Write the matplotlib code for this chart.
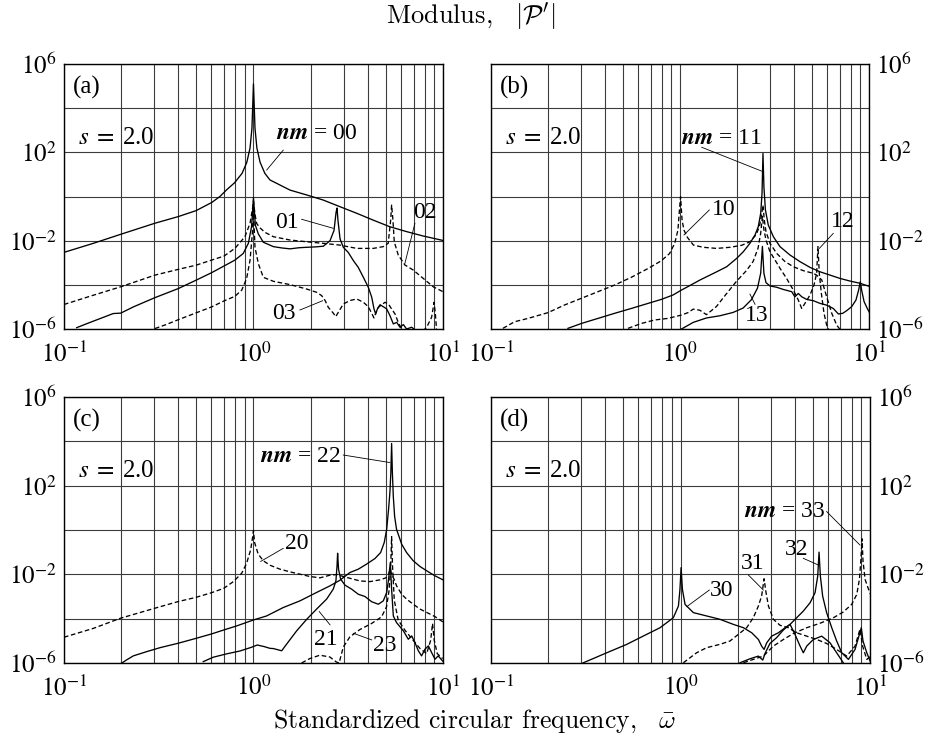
import numpy as np
import matplotlib
matplotlib.use("Agg")
from matplotlib import pyplot as plt
from matplotlib.ticker import FixedLocator, FixedFormatter, LogLocator, NullFormatter, NullLocator

# DATA
# All values are log10: *_W = log10(omega), *_P = log10(|P'|)

# panel (a)
A00_W = [-1.0, -0.845, -0.70, -0.52, -0.397, -0.303, -0.22, -0.177, -0.142, -0.10, -0.06, -0.035,
         -0.018, -0.008, 0.0, 0.008, 0.018, 0.035, 0.06, 0.087, 0.193, 0.281, 0.368, 0.456, 0.545,
         0.632, 0.720, 0.808, 0.896, 1.0]
A00_P = [-2.53, -2.12, -1.71, -1.21, -0.91, -0.64, -0.27, 0.0, 0.30, 0.62, 1.05, 1.55,
         2.2, 3.1, 5.1, 3.1, 2.2, 1.55, 1.05, 0.75, 0.29, 0.07, -0.16, -0.46, -0.76,
         -1.07, -1.37, -1.59, -1.79, -1.99]

A01_W = [-0.933, -0.880, -0.810, -0.740, -0.70, -0.634, -0.520, -0.397, -0.303, -0.221, -0.156,
         -0.098, -0.054, -0.027, -0.010, 0.0, 0.010, 0.026, 0.052, 0.105, 0.150, 0.193, 0.240,
         0.281, 0.330, 0.369, 0.404, 0.425, 0.436, 0.441, 0.446, 0.457, 0.474, 0.500, 0.527,
         0.553, 0.580, 0.606, 0.624, 0.636, 0.645, 0.654, 0.668, 0.685, 0.703, 0.720, 0.738,
         0.756, 0.773, 0.791, 0.808, 0.835, 0.861]
A01_P = [-5.94, -5.76, -5.53, -5.30, -5.28, -5.0, -4.58, -4.17, -3.79, -3.45, -3.15,
         -2.88, -2.58, -2.12, -1.36, -0.05, -1.3, -1.70, -2.07, -2.27, -2.33, -2.37, -2.32,
         -2.30, -2.28, -2.25, -2.0, -1.54, -0.71, -0.52, -1.09, -1.92, -2.30, -2.53, -2.90,
         -3.21, -3.66, -4.11, -4.56, -5.09, -5.32, -5.09, -4.90, -4.99, -5.09, -5.39, -5.77,
         -5.70, -5.92, -5.80, -6.0, -5.92, -6.1]

A02_W = [-1.0, -0.845, -0.701, -0.52, -0.397, -0.303, -0.221, -0.156, -0.098, -0.045, -0.018,
         -0.006, 0.0, 0.008, 0.017, 0.032, 0.060, 0.105, 0.193, 0.281, 0.368, 0.456, 0.545,
         0.632, 0.685, 0.711, 0.724, 0.729, 0.736, 0.743, 0.764, 0.799, 0.843, 0.896, 0.949, 1.0]
A02_P = [-4.89, -4.47, -4.09, -3.56, -3.30, -3.11, -2.88, -2.70, -2.35, -1.82, -1.21,
         -0.6, -0.2, -0.8, -1.22, -1.40, -1.62, -1.82, -1.97, -2.05, -2.12, -2.20, -2.35,
         -2.35, -2.27, -2.12, -1.07, -0.39, -1.07, -2.05, -2.65, -3.10, -3.33, -3.71, -4.09, -4.31]

A03_W = [-0.520, -0.458, -0.397, -0.303, -0.221, -0.156, -0.098, -0.062, -0.036, -0.018, -0.006,
         0.0, 0.008, 0.026, 0.052, 0.105, 0.193, 0.281, 0.334, 0.360, 0.378, 0.395, 0.422, 0.434,
         0.448, 0.474, 0.509, 0.545, 0.580, 0.606, 0.624, 0.636, 0.647, 0.659, 0.677, 0.694,
         0.712, 0.729, 0.747, 0.764, 0.782, 0.808, 0.888, 0.914, 0.940, 0.953, 0.960, 0.967]
A03_P = [-5.98, -5.79, -5.58, -5.27, -5.0, -4.73, -4.52, -4.24, -3.71, -2.88, -1.67,
         -0.6, -2.30, -3.05, -3.66, -3.84, -3.99, -4.19, -4.34, -4.49, -4.71, -5.02, -5.29, -5.44,
         -5.24, -4.87, -4.71, -4.64, -4.79, -4.99, -5.29, -5.50, -5.24, -5.02, -4.90, -4.79,
         -4.87, -5.09, -5.32, -5.70, -6.0, -6.2, -6.15, -5.92, -5.47, -4.79, -5.32, -6.15]

# panel (b)
B10_W = [-0.937, -0.875, -0.804, -0.699, -0.610, -0.522, -0.434, -0.346, -0.258, -0.169, -0.099,
         -0.055, -0.028, -0.011, -0.003, 0.003, 0.011, 0.021, 0.039, 0.071, 0.123, 0.194, 0.265,
         0.326, 0.370, 0.402, 0.420, 0.430, 0.439, 0.446, 0.455, 0.476, 0.512, 0.556, 0.600,
         0.653, 0.706, 0.723, 0.750, 0.776, 0.803, 0.829, 0.855]
B10_P = [-5.97, -5.67, -5.52, -5.26, -4.91, -4.61, -4.31, -4.01, -3.66, -3.26, -2.91,
         -2.58, -2.12, -1.52, -0.61, -0.01, -1.07, -1.52, -1.85, -2.20, -2.30, -2.35, -2.30,
         -2.21, -2.05, -1.74, -1.37, -0.91, -0.39, -1.07, -1.59, -2.12, -2.58, -2.95, -3.18,
         -3.36, -3.48, -3.56, -3.78, -4.54, -5.29, -5.82, -6.12]

B11_W = [-0.593, -0.522, -0.434, -0.346, -0.258, -0.169, -0.099, -0.037, 0.007, 0.042, 0.106,
         0.194, 0.247, 0.300, 0.335, 0.370, 0.397, 0.414, 0.427, 0.434, 0.439, 0.444, 0.452,
         0.467, 0.494, 0.529, 0.582, 0.635, 0.688, 0.741, 0.794, 0.847, 0.900, 0.953, 1.005]
B11_P = [-5.97, -5.75, -5.52, -5.29, -5.07, -4.84, -4.66, -4.46, -4.24, -4.08, -3.78,
         -3.41, -3.18, -2.80, -2.50, -2.12, -1.74, -1.37, -0.76, 0.14, 1.95, 0.44, -0.61,
         -1.29, -1.82, -2.27, -2.65, -2.95, -3.21, -3.41, -3.56, -3.71, -3.83, -3.93, -4.08]

B12_W = [-0.275, -0.205, -0.134, -0.064, 0.007, 0.042, 0.070, 0.105, 0.140, 0.193, 0.246, 0.299,
         0.352, 0.387, 0.413, 0.427, 0.436, 0.444, 0.455, 0.476, 0.503, 0.529, 0.564, 0.600,
         0.626, 0.644, 0.661, 0.688, 0.709, 0.723, 0.730, 0.737, 0.748, 0.762, 0.776, 0.790]
B12_P = [-5.97, -5.75, -5.59, -5.52, -5.37, -5.26, -5.10, -5.15, -5.35, -4.98, -4.40, -3.84,
         -3.35, -2.94, -2.34, -1.66, -0.9, -1.5, -1.97, -2.50, -2.88, -3.25, -3.71, -4.24,
         -4.69, -5.07, -4.84, -4.46, -4.01, -3.48, -2.27, -3.48, -4.39, -5.29, -5.82, -6.1]

B13_W = [0.008, 0.070, 0.140, 0.211, 0.281, 0.334, 0.378, 0.410, 0.427, 0.436, 0.444, 0.455,
         0.476, 0.512, 0.547, 0.591, 0.608, 0.626, 0.644, 0.670, 0.706, 0.741, 0.776, 0.811,
         0.838, 0.861, 0.882, 0.908, 0.931, 0.945, 0.954, 0.961, 0.974, 0.991, 1.005]
B13_P = [-6.0, -5.70, -5.50, -5.40, -5.25, -5.05, -4.67, -4.15, -3.47, -2.26, -3.48, -3.90,
         -4.05, -4.11, -4.21, -4.31, -4.54, -4.39, -4.54, -4.66, -4.72, -4.84, -4.92, -5.07,
         -5.32, -5.29, -5.17, -4.99, -4.69, -4.24, -3.86, -4.24, -4.76, -5.07, -5.29]

# panel (c)
C20_W = [-1.0, -0.845, -0.701, -0.520, -0.397, -0.303, -0.221, -0.156, -0.106, -0.062, -0.036,
         -0.015, -0.004, 0.0, 0.006, 0.025, 0.052, 0.087, 0.140, 0.193, 0.245, 0.298, 0.351,
         0.404, 0.442, 0.474, 0.509, 0.562, 0.615, 0.668, 0.699, 0.713, 0.722, 0.728, 0.742,
         0.755, 0.782, 0.808, 0.843, 0.879, 0.914, 0.958, 1.0]
C20_P = [-4.84, -4.44, -3.98, -3.53, -3.23, -3.04, -2.83, -2.63, -2.33, -1.95, -1.50,
         -0.90, -0.30, -0.03, -0.57, -1.09, -1.39, -1.59, -1.77, -1.89, -1.995, -2.10, -2.16,
         -2.04, -2.01, -2.10, -2.18, -2.30, -2.33, -2.25, -2.16, -2.0, -1.75, -2.0, -2.22,
         -2.52, -2.90, -3.12, -3.35, -3.57, -3.72, -3.91, -4.15]

C21_W = [-0.265, -0.212, -0.142, -0.071, -0.010, 0.020, 0.056, 0.087, 0.105, 0.149, 0.175, 0.228,
         0.281, 0.333, 0.386, 0.421, 0.435, 0.441, 0.444, 0.449, 0.460, 0.483, 0.518, 0.553,
         0.588, 0.624, 0.659, 0.685, 0.703, 0.713, 0.722, 0.729, 0.738, 0.755, 0.791, 0.817,
         0.835, 0.852, 0.870, 0.887, 0.905, 0.923, 0.940, 0.958, 0.975, 0.998]
C21_P = [-5.94, -5.74, -5.59, -5.46, -5.29, -5.19, -5.26, -5.34, -5.35, -5.45, -5.15, -4.55,
         -4.03, -3.57, -3.12, -2.67, -2.30, -1.62, -1.05, -1.77, -2.22, -2.49, -2.67, -2.90,
         -3.00, -3.24, -3.35, -3.20, -2.82, -2.22, -1.47, -2.67, -3.88, -4.18, -4.55, -4.93,
         -4.78, -5.08, -5.45, -5.68, -5.38, -5.23, -5.53, -5.83, -5.68, -5.91]

C22_W = [-0.696, -0.669, -0.634, -0.564, -0.493, -0.397, -0.303, -0.221, -0.156, -0.089, 0.0,
         0.069, 0.157, 0.245, 0.333, 0.404, 0.456, 0.509, 0.553, 0.597, 0.641, 0.671, 0.690,
         0.703, 0.713, 0.720, 0.725, 0.729, 0.733, 0.738, 0.745, 0.755, 0.782, 0.808, 0.843,
         0.879, 0.923, 0.958, 1.0]
C22_P = [-6.01, -5.86, -5.68, -5.49, -5.31, -5.11, -4.89, -4.69, -4.51, -4.33, -4.06,
         -3.88, -3.50, -3.20, -2.82, -2.52, -2.27, -1.92, -1.77, -1.54, -1.29, -1.02, -0.57,
         0.03, 0.94, 1.69, 2.6, 3.9, 2.6, 1.5, 0.6, 0.03, -0.64, -1.02, -1.39,
         -1.65, -1.89, -2.07, -2.25]

C23_W = [0.254, 0.298, 0.350, 0.403, 0.438, 0.452, 0.474, 0.509, 0.562, 0.623, 0.676, 0.702,
         0.716, 0.724, 0.729, 0.734, 0.743, 0.764, 0.799, 0.843, 0.879, 0.914, 0.935, 0.945,
         0.954, 0.970, 0.998]
C23_P = [-6.0, -5.80, -5.65, -5.73, -5.96, -6.0, -5.28, -4.82, -4.49, -4.22, -3.92, -3.47,
         -2.71, -1.66, -0.30, -1.66, -3.17, -4.07, -4.52, -4.98, -5.35, -5.58, -4.98, -4.22,
         -4.98, -5.58, -5.80]

# panel (d)
D30_W = [-0.515, -0.392, -0.286, -0.181, -0.108, -0.038, -0.011, -0.003, 0.003, 0.010, 0.024,
         0.068, 0.138, 0.208, 0.279, 0.332, 0.376, 0.411, 0.428, 0.441, 0.455, 0.481, 0.516,
         0.552, 0.578, 0.604, 0.631, 0.648, 0.666, 0.701, 0.745, 0.789, 0.824, 0.859]
D30_P = [-6.0, -5.55, -5.17, -4.72, -4.41, -3.96, -3.43, -2.68, -1.70, -2.68, -3.36,
         -3.73, -3.88, -4.03, -4.26, -4.41, -4.64, -4.94, -5.24, -5.39, -5.09, -4.79, -4.64,
         -4.41, -4.26, -4.71, -5.24, -5.54, -5.24, -4.94, -4.79, -5.09, -5.54, -5.99]

D31_W = [0.015, 0.085, 0.138, 0.208, 0.261, 0.305, 0.349, 0.384, 0.411, 0.428, 0.441, 0.450,
         0.464, 0.490, 0.525, 0.569, 0.613, 0.666, 0.719, 0.771, 0.824, 0.877, 0.921, 0.947,
         0.961, 0.983, 1.004]
D31_P = [-5.99, -5.54, -5.31, -5.16, -5.01, -4.71, -4.41, -3.96, -3.43, -2.98, -2.20, -2.76,
         -3.43, -4.03, -4.30, -4.41, -4.64, -4.79, -4.94, -5.12, -5.39, -5.69, -5.24, -4.48,
         -5.24, -5.84, -5.69]

D32_W = [0.314, 0.367, 0.411, 0.434, 0.446, 0.472, 0.507, 0.543, 0.578, 0.613, 0.648, 0.684,
         0.710, 0.724, 0.731, 0.738, 0.750, 0.771, 0.798, 0.824, 0.851, 0.886, 0.921, 0.944,
         0.954, 0.963, 0.983, 1.004]
D32_P = [-5.99, -5.81, -5.69, -5.87, -5.57, -5.12, -4.86, -4.51, -4.26, -3.96, -3.66, -3.28,
         -2.83, -2.08, -1.0, -2.08, -2.98, -3.73, -4.41, -5.01, -5.54, -5.84, -5.39, -4.71,
         -4.41, -5.01, -5.54, -5.99]

D33_W = [0.332, 0.384, 0.437, 0.490, 0.543, 0.596, 0.666, 0.736, 0.807, 0.859, 0.903, 0.930,
         0.944, 0.952, 0.958, 0.963, 0.974, 0.991, 1.005]
D33_P = [-5.99, -5.84, -5.69, -5.24, -4.94, -4.67, -4.41, -4.21, -3.96, -3.70, -3.36, -2.91,
         -2.23, -1.33, -0.4, -1.40, -2.23, -2.65, -2.95]

# curve labels: text, text centre, leader start, leader end (log10 coords)
A_NOTES = [(r"$\mathbfit{nm}$ = 00", (0.334, 2.84), (0.157, 2.10), (0.070, 1.20)),
           ("01", (0.179, -1.18), (0.254, -1.03), (0.421, -1.44)),
           ("02", (0.905, -0.73), (0.852, -1.21), (0.799, -3.03)),
           ("03", (0.161, -5.32), (0.245, -5.14), (0.365, -4.72))]
B_NOTES = [(r"$\mathbfit{nm}$ = 11", (0.221, 2.63), (0.115, 2.23), (0.432, 1.15)),
           ("10", (0.229, -0.57), (0.155, -0.61), (0.021, -1.74)),
           ("12", (0.860, -1.14), (0.811, -1.67), (0.737, -2.35)),
           ("13", (0.406, -5.40), (0.397, -4.88), (0.370, -4.42))]
C_NOTES = [(r"$\mathbfit{nm}$ = 22", (0.250, 3.31), (0.474, 3.38), (0.720, 3.04)),
           ("20", (0.228, -0.60), (0.157, -0.83), (0.038, -1.42)),
           ("21", (0.382, -4.96), (0.404, -4.28), (0.347, -3.68)),
           ("23", (0.694, -5.19), (0.624, -4.96), (0.527, -4.66))]
D_NOTES = [(r"$\mathbfit{nm}$ = 33", (0.551, 0.83), (0.771, 0.83), (0.947, -0.68)),
           ("32", (0.613, -0.90), (0.648, -1.28), (0.727, -1.58)),
           ("31", (0.380, -1.50), (0.358, -2.03), (0.437, -2.71)),
           ("30", (0.217, -2.71), (0.152, -2.71), (0.033, -3.46))]

YTICK_EXP = [-6, -4, -2, 0, 2, 4, 6]
YTICK_LABELS = ["$10^{-6}$", "", "$10^{-2}$", "", "$10^{2}$", "", "$10^{6}$"]
XTICK_LABELS = ["$10^{-1}$", "$10^{0}$", "$10^{1}$"]

plt.rcParams["font.family"] = "serif"
plt.rcParams["font.serif"] = ["Liberation Serif", "DejaVu Serif"]
plt.rcParams["mathtext.fontset"] = "stix"

DASH = (0, (3.5, 2.0))
GRID = "#3c3c3c"


def draw_panel(ax, tag, curves, notes, right=False):
    for w, p, ls in curves:
        ax.plot(10.0 ** np.array(w), 10.0 ** np.array(p), color="k", lw=0.95,
                linestyle=DASH if ls == "--" else "-")

    ax.set_xscale("log")
    ax.set_yscale("log")
    ax.set_xlim(0.1, 10)
    ax.set_ylim(1e-6, 1e6)

    ax.xaxis.set_major_locator(FixedLocator([0.1, 1.0, 10.0]))
    ax.xaxis.set_major_formatter(FixedFormatter(XTICK_LABELS))
    ax.xaxis.set_minor_locator(LogLocator(base=10, subs=np.arange(2, 10)))
    ax.xaxis.set_minor_formatter(NullFormatter())
    ax.yaxis.set_major_locator(FixedLocator([10.0 ** k for k in YTICK_EXP]))
    ax.yaxis.set_major_formatter(FixedFormatter(YTICK_LABELS))
    ax.yaxis.set_minor_locator(NullLocator())

    ax.grid(True, which="both", axis="x", color=GRID, lw=0.8)
    ax.grid(True, which="major", axis="y", color=GRID, lw=0.8)
    ax.set_axisbelow(True)
    ax.tick_params(which="both", length=0, labelsize=18)
    ax.tick_params(axis="x", pad=9)
    ax.tick_params(axis="y", pad=5)
    if right:
        ax.yaxis.tick_right()
    for sp in ax.spines.values():
        sp.set_linewidth(1.0)

    ax.text(0.024, 0.911, tag, transform=ax.transAxes, fontsize=18,
            ha="left", va="center")
    ax.text(0.037, 0.72, r"$s\;=\;$2.0", transform=ax.transAxes, fontsize=18,
            ha="left", va="center")

    for txt, tpos, l0, l1 in notes:
        ax.plot([10 ** l0[0], 10 ** l1[0]], [10 ** l0[1], 10 ** l1[1]],
                color="k", lw=0.6)
        ax.text(10 ** tpos[0], 10 ** tpos[1], txt, fontsize=17,
                ha="center", va="center")


fig = plt.figure(figsize=(9.31, 7.40), dpi=100)
ax_a = fig.add_axes([0.0687, 0.5554, 0.4071, 0.3581])
ax_b = fig.add_axes([0.5274, 0.5554, 0.4060, 0.3581])
ax_c = fig.add_axes([0.0687, 0.1041, 0.4071, 0.3595])
ax_d = fig.add_axes([0.5274, 0.1041, 0.4071, 0.3595])

draw_panel(ax_a, "(a)", [(A00_W, A00_P, "-"), (A01_W, A01_P, "-"),
                         (A02_W, A02_P, "--"), (A03_W, A03_P, "--")], A_NOTES)
draw_panel(ax_b, "(b)", [(B11_W, B11_P, "-"), (B13_W, B13_P, "-"),
                         (B10_W, B10_P, "--"), (B12_W, B12_P, "--")], B_NOTES, right=True)
draw_panel(ax_c, "(c)", [(C22_W, C22_P, "-"), (C21_W, C21_P, "-"),
                         (C20_W, C20_P, "--"), (C23_W, C23_P, "--")], C_NOTES)
draw_panel(ax_d, "(d)", [(D30_W, D30_P, "-"), (D32_W, D32_P, "-"),
                         (D31_W, D31_P, "--"), (D33_W, D33_P, "--")], D_NOTES, right=True)

fig.text(0.506, 0.978, r"Modulus,$\quad|\mathcal{P}'|$", ha="center", va="center",
         fontsize=19, family="cmr10", math_fontfamily="cm")
fig.text(0.51, 0.025, r"Standardized circular frequency,$\quad\bar{\omega}$",
         ha="center", va="center", fontsize=18.5, family="cmr10", math_fontfamily="cm")

fig.savefig("out.png", dpi=100)
